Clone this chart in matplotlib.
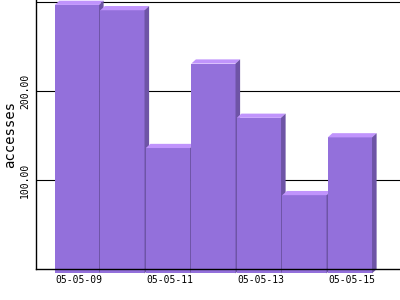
import numpy as np
import matplotlib
matplotlib.use("Agg")
import matplotlib.pyplot as plt
from matplotlib.patches import Polygon
from matplotlib.transforms import ScaledTranslation

# ---- data ----
dates = ["05-05-09", "05-05-10", "05-05-11", "05-05-12", "05-05-13", "05-05-14", "05-05-15"]
accesses = [302, 296, 141, 236, 175, 88, 153]
xtick_idx = [0, 2, 4, 6]
ytick_vals = [100, 200, 300]
ytick_labels = ["100.00", "200.00", ""]
ylabel = "accesses"

# ---- style ----
front_c = "#9370DB"
top_c = "#C094FC"
side_c = "#6E54A6"
depth_px = (4.6, 4.2)   # 3D offset (pixels)
bar_w = 0.972
mono = "DejaVu Sans Mono"

fig = plt.figure(figsize=(4, 3), dpi=100)
ax = fig.add_axes([36 / 400, 30.8 / 300, 364 / 400, 269.2 / 300])
ax.set_xlim(-1, 7)
ax.set_ylim(0, 302.8)

# convert pixel depth to data units
o = ax.transData.transform((0, 0))
p = ax.transData.inverted().transform(o + np.array(depth_px))
dxd, dyd = p[0], p[1]

x = np.arange(len(dates))
for i, v in enumerate(accesses):
    z = 2 + i * 0.01
    ax.bar(x[i] - dxd, v, width=bar_w, bottom=-dyd, color=front_c, lw=0,
           zorder=z, clip_on=False)
    l, r = x[i] - bar_w / 2, x[i] + bar_w / 2
    top = Polygon([(l - dxd, v - dyd), (r - dxd, v - dyd), (r, v), (l, v)],
                  closed=True, fc=top_c, lw=0, zorder=z, clip_on=False)
    side = Polygon([(r - dxd, -dyd), (r, 0), (r, v), (r - dxd, v - dyd)],
                   closed=True, fc=side_c, lw=0, zorder=z, clip_on=False)
    ax.add_patch(top)
    ax.add_patch(side)

# axes styling
for s in ["top", "right"]:
    ax.spines[s].set_visible(False)
for s in ["left", "bottom"]:
    ax.spines[s].set_color("black")
    ax.spines[s].set_linewidth(1.0)
ax.set_axisbelow(True)
ax.yaxis.grid(True, color="black", lw=0.8)
ax.xaxis.grid(False)

ax.set_yticks(ytick_vals)
ax.set_yticklabels(ytick_labels, rotation=90, va="center", fontsize=7, family=mono)
ax.set_xticks([x[k] for k in xtick_idx])
ax.set_xticklabels([dates[k] for k in xtick_idx], fontsize=7, family=mono)
ax.tick_params(axis="both", length=0)
ax.tick_params(axis="y", pad=4.3)
ax.tick_params(axis="x", pad=4.5)

shift = ScaledTranslation(-2.2 / 100, 0, fig.dpi_scale_trans)
for lab in ax.get_xticklabels():
    lab.set_transform(lab.get_transform() + shift)

ax.set_ylabel(ylabel, fontsize=10, family=mono)
ax.yaxis.label.set(ha="center", va="center", rotation_mode="default")
ax.yaxis.set_label_coords((10 - 36) / 364, 0.5)

fig.savefig("out.png", dpi=100)
